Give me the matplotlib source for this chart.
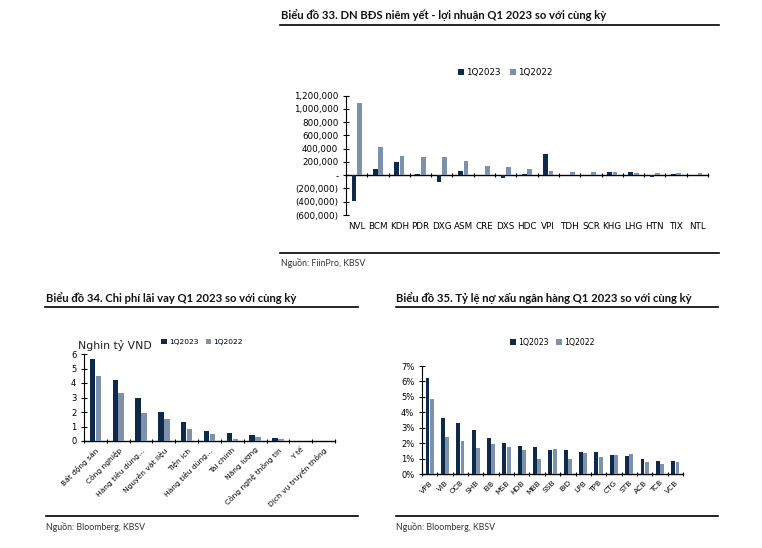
import numpy as np
import matplotlib
matplotlib.use("Agg")
import matplotlib.pyplot as plt
from matplotlib.lines import Line2D
from matplotlib.ticker import FuncFormatter

plt.rcParams['font.family'] = ['DejaVu Sans']

# ---- Biểu đồ 33 ----
re_tickers = ["NVL", "BCM", "KDH", "PDR", "DXG", "ASM", "CRE", "DXS", "HDC",
              "VPI", "TDH", "SCR", "KHG", "LHG", "HTN", "TIX", "NTL"]
re_2023 = [-383000, 87000, 199000, 20000, -102000, 66000, 2000, -41000, 25000,
           321000, 3000, 2000, 56000, 46000, -20000, 26000, 2000]
re_2022 = [1087000, 429000, 296000, 281000, 270000, 209000, 138000, 122000, 88000,
           61000, 56000, 56000, 46000, 41000, 36000, 41000, 31000]

# ---- Biểu đồ 34 ----
sectors = ["Bất động sản", "Công nghiệp", "Hàng tiêu dùng...", "Nguyên vật liệu",
           "Tiện ích", "Hàng tiêu dùng...", "Tài chính", "Năng lượng",
           "Công nghệ thông tin", "Y tế", "Dịch vụ truyền thông"]
int_2023 = [5.64, 4.24, 2.97, 2.03, 1.28, 0.72, 0.52, 0.42, 0.18, 0.02, 0.01]
int_2022 = [4.50, 3.30, 1.90, 1.50, 0.85, 0.50, 0.15, 0.25, 0.16, 0.01, 0.0]

# ---- Biểu đồ 35 ----
banks = ["VPB", "VIB", "OCB", "SHB", "EIB", "MSB", "HDB", "MBB", "SSB", "BID",
         "LPB", "TPB", "CTG", "STB", "ACB", "TCB", "VCB"]
npl_2023 = [6.22, 3.62, 3.30, 2.82, 2.32, 2.00, 1.80, 1.74, 1.58, 1.54,
            1.41, 1.41, 1.26, 1.17, 0.95, 0.82, 0.82]
npl_2022 = [4.84, 2.39, 2.15, 1.71, 1.95, 1.78, 1.56, 0.98, 1.60, 0.95,
            1.39, 1.11, 1.21, 1.28, 0.78, 0.63, 0.80]

dark = "#0e2a4b"
light = "#7d91ad"
W, H = 762, 548

fig = plt.figure(figsize=(7.62, 5.48), dpi=100)
fig.patch.set_facecolor("white")


def box(x0, y0, x1, y1):
    # pixel box (top-left origin) -> figure fraction rect
    return [x0 / W, 1 - y1 / H, (x1 - x0) / W, (y1 - y0) / H]


def hline(x0, x1, y, lw=1.2):
    fig.add_artist(Line2D([x0 / W, x1 / W], [1 - y / H, 1 - y / H],
                          color="black", lw=lw, transform=fig.transFigure))


def title(x, y, s):
    fig.text(x / W, 1 - y / H, s, fontsize=8.1, fontweight="bold",
             family="Lato", va="center", ha="left", color="#111111")


def source(x, y, s):
    fig.text(x / W, 1 - y / H, s, fontsize=6.3, family="Lato",
             va="center", ha="left", color="#333333")


def cat_axis(ax, n, zero_frac):
    ax.set_xlim(-0.5, n - 0.5)
    ax.spines["top"].set_visible(False)
    ax.spines["right"].set_visible(False)
    ax.spines["bottom"].set_visible(False)
    ax.tick_params(axis="x", length=0)
    sec = ax.secondary_xaxis(zero_frac)
    sec.set_xticks(np.arange(n + 1) - 0.5)
    sec.set_xticklabels([])
    sec.tick_params(axis="x", direction="inout", length=3, width=0.8)
    sec.spines["bottom"].set_linewidth(1.0)
    ax.tick_params(axis="y", direction="inout", length=4, width=0.8, labelsize=6)


# Chart 33
title(281, 15, "Biểu đồ 33. DN BĐS niêm yết - lợi nhuận Q1 2023 so với cùng kỳ")
hline(280, 719, 25)
ax1 = fig.add_axes(box(346, 95.7, 708, 215))
x = np.arange(len(re_tickers))
ax1.bar(x - 0.13, re_2023, 0.22, color=dark, label="1Q2023")
ax1.bar(x + 0.13, re_2022, 0.22, color=light, label="1Q2022")
ax1.set_ylim(-600000, 1200000)
ax1.set_yticks(np.arange(-600000, 1200001, 200000))


def fmt_k(v, pos):
    if abs(v) < 1:
        return "-"
    if v < 0:
        return "({:,.0f})".format(-v)
    return "{:,.0f}".format(v)


ax1.yaxis.set_major_formatter(FuncFormatter(fmt_k))
cat_axis(ax1, len(re_tickers), 1 / 3)
ax1.set_xticks(x)
ax1.set_xticklabels(re_tickers, fontsize=6.3)
ax1.tick_params(axis="x", pad=5)
ax1.tick_params(axis="y", labelsize=6.3)
ax1.legend(loc="center", bbox_to_anchor=(0.44, 1.195), ncol=2, frameon=False,
           fontsize=6.3, handlelength=0.7, handleheight=0.7, handletextpad=0.3,
           columnspacing=1.0)
hline(280, 719, 253)
source(281, 263, "Nguồn: FiinPro, KBSV")

# Chart 34
title(46, 298, "Biểu đồ 34. Chi phí lãi vay Q1 2023 so với cùng kỳ")
hline(45, 358, 307)
ax2 = fig.add_axes(box(84, 354, 335, 441))
x = np.arange(len(sectors))
ax2.bar(x - 0.13, int_2023, 0.24, color=dark, label="1Q2023")
ax2.bar(x + 0.13, int_2022, 0.24, color=light, label="1Q2022")
ax2.set_ylim(0, 6)
ax2.set_yticks(range(0, 7))
cat_axis(ax2, len(sectors), 0)
ax2.set_xticks(x)
ax2.set_xticklabels(sectors, fontsize=5.4, rotation=45, ha="right",
                    rotation_mode="anchor")
ax2.tick_params(axis="x", pad=4)
ax2.legend(loc="center", bbox_to_anchor=(0.47, 1.14), ncol=2, frameon=False,
           fontsize=5.4, handlelength=0.7, handleheight=0.7, handletextpad=0.3,
           columnspacing=1.0)
fig.text(78 / W, 1 - 346 / H, "Nghin tỷ VND", fontsize=7.8, va="center",
         ha="left", color="#222222")
hline(46, 358, 516)
source(46, 527, "Nguồn: Bloomberg, KBSV")

# Chart 35
title(396, 298, "Biểu đồ 35. Tỷ lệ nợ xấu ngân hàng Q1 2023 so với cùng kỳ")
hline(396, 718, 307)
ax3 = fig.add_axes(box(422, 366, 683, 474))
x = np.arange(len(banks))
ax3.bar(x - 0.14, npl_2023, 0.25, color=dark, label="1Q2023")
ax3.bar(x + 0.14, npl_2022, 0.25, color=light, label="1Q2022")
ax3.set_ylim(0, 7)
ax3.set_yticks(range(0, 8))
ax3.yaxis.set_major_formatter(FuncFormatter(lambda v, p: "{:.0f}%".format(v)))
cat_axis(ax3, len(banks), 0)
ax3.set_xticks(x)
ax3.set_xticklabels(banks, fontsize=5.4, rotation=45, ha="right",
                    rotation_mode="anchor")
ax3.tick_params(axis="x", pad=4)
ax3.legend(loc="center", bbox_to_anchor=(0.5, 1.22), ncol=2, frameon=False,
           fontsize=5.6, handlelength=0.7, handleheight=0.7, handletextpad=0.3,
           columnspacing=1.0)
hline(396, 718, 516)
source(396, 527, "Nguồn: Bloomberg, KBSV")

fig.savefig("out.png", dpi=100, facecolor="white")
